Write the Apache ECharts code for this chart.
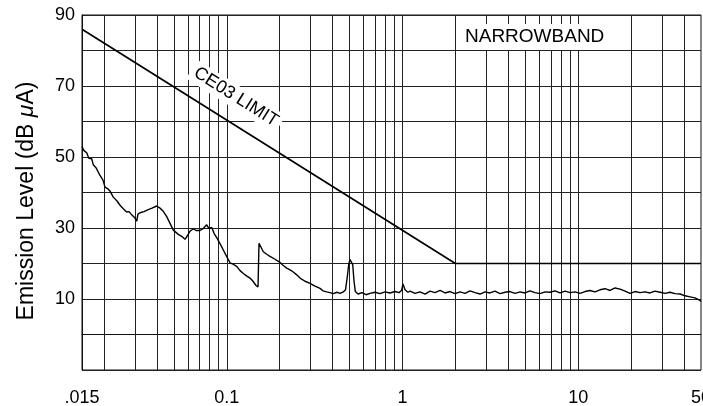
<!DOCTYPE html>
<html>
<head>
<meta charset="utf-8">
<script src="https://cdn.jsdelivr.net/npm/echarts@6/dist/echarts.min.js"></script>
<style>html,body{margin:0;padding:0;background:#fff}#c{width:703px;height:406px}</style>
</head>
<body>
<div id="c"></div>
<script>
// ---- data ----
const xLabelValues = [0.015, 0.1, 1, 10, 50];
const xLabelTexts = ['.015', '0.1', '1', '10', '50'];
const yLabelValues = [10, 30, 50, 70, 90];
const gridFreqs = [0.02,0.03,0.04,0.05,0.06,0.07,0.08,0.09,
  0.1,0.2,0.3,0.4,0.5,0.6,0.7,0.8,0.9,
  1,2,3,4,5,6,7,8,9,
  10,20,30,40];
const limitFreq = [0.015, 2, 50];
const limitDb = [86, 20, 20];
const noisePoints = [
 [0.0150,52.9],[0.01540,51.8],[0.01595,51.2],[0.01643,49.6],[0.01703,49.5],[0.01739,47.8],[0.01802,47.0],
 [0.01899,44.8],[0.01975,43.5],[0.02028,41.5],[0.02109,41.0],[0.02165,40.4],[0.02260,38.7],[0.02373,37.6],
 [0.02469,36.4],[0.02568,35.5],[0.02694,34.5],[0.02777,34.6],[0.02877,33.7],[0.02945,33.5],[0.03003,32.8],
 [0.03071,31.9],[0.03124,33.9],[0.03208,34.3],[0.03381,34.6],[0.03576,35.2],[0.03753,35.6],[0.03991,36.2],
 [0.04169,35.6],[0.04336,34.8],[0.04552,33.2],[0.04753,31.3],[0.04962,29.4],[0.05299,28.2],[0.05563,27.6],
 [0.05785,26.8],[0.06017,28.1],[0.06177,29.1],[0.06451,29.8],[0.06682,29.3],[0.07042,29.3],[0.07325,29.8],
 [0.07687,30.9],[0.07922,29.8],[0.08207,30.2],[0.08459,28.5],[0.08764,27.3],[0.09152,25.6],[0.09556,23.8],
 [0.1003,21.8],[0.1043,20.2],[0.1085,19.8],[0.1139,19.2],[0.1190,18.0],[0.1242,17.2],[0.1296,16.5],
 [0.1356,15.9],[0.1410,15.0],[0.1467,13.8],[0.1506,13.4],[0.1516,12.9],[0.1526,25.7],[0.1566,25.2],
 [0.1614,23.3],[0.1688,22.6],[0.1762,22.0],[0.1882,21.2],[0.2009,20.3],[0.2090,19.5],[0.2194,18.7],
 [0.2291,18.2],[0.2391,17.6],[0.2501,16.8],[0.2612,15.9],[0.2789,15.0],[0.2977,14.4],[0.3178,13.6],
 [0.3394,13.0],[0.3530,12.3],[0.3705,12.0],[0.3869,11.8],[0.4040,11.5],[0.4241,11.9],[0.4411,11.6],
 [0.4606,12.0],[0.4741,12.6],[0.4855,16.3],[0.4944,19.8],[0.5029,21.1],[0.5115,20.6],[0.5210,19.7],
 [0.5300,15.0],[0.5391,12.1],[0.5585,11.4],[0.5884,11.8],[0.6201,11.2],[0.6536,11.6],[0.6977,11.9],
 [0.7451,11.5],[0.7955,12.0],[0.8494,11.7],[0.9067,12.1],[0.9557,11.8],[0.9874,12.4],[1.007,14.2],
 [1.034,12.6],[1.075,11.9],[1.104,12.2],[1.179,11.6],[1.258,12.0],[1.344,11.4],[1.435,12.2],[1.532,11.8],
 [1.636,12.4],[1.747,11.7],[1.865,12.1],[1.991,11.5],[2.126,12.0],[2.270,11.6],[2.423,12.3],[2.588,11.8],
 [2.763,11.4],[2.950,12.0],[3.149,11.7],[3.363,12.2],[3.592,11.5],[3.834,11.9],[4.094,12.1],[4.371,11.6],
 [4.667,12.0],[4.983,11.7],[5.320,12.3],[5.680,11.8],[6.065,11.5],[6.476,12.0],[6.914,11.9],[7.383,12.3],
 [7.882,11.7],[8.417,12.2],[8.987,11.8],[9.594,12.0],[10.24,11.6],[10.94,12.1],[11.68,12.4],[12.47,12.0],
 [13.31,12.6],[14.22,12.9],[15.18,12.4],[16.21,13.1],[17.31,12.8],[18.48,12.2],[19.73,11.6],[21.06,12.1],
 [22.49,11.8],[24.01,12.0],[25.64,11.7],[27.37,12.2],[29.23,11.9],[31.21,11.6],[33.32,11.9],[35.58,11.5],
 [37.98,11.4],[40.56,10.9],[43.31,10.6],[46.24,10.3],[49.37,9.6],[50,9.3]
];
const yAxisTitle = 'Emission Level (dB ';
const limitLabel = 'CE03 LIMIT';
const bandLabel = 'NARROWBAND';

// ---- chart ----
const FONT = "'Liberation Sans', Arial, Helvetica, sans-serif";
const chart = echarts.init(document.getElementById('c'), null, {renderer: 'canvas'});
function xFmt(v) {
  for (let i = 0; i < xLabelValues.length; i++) {
    if (Math.abs(Math.log10(v) - Math.log10(xLabelValues[i])) < 1e-4) return xLabelTexts[i];
  }
  return '';
}
const option = {
  animation: false,
  grid: {left: 82, right: 2, top: 15, bottom: 36, containLabel: false, outerBoundsMode: 'none',
    show: true, borderColor: '#111', borderWidth: 1, backgroundColor: 'transparent'},
  xAxis: {
    type: 'log', logBase: 10, min: 0.015, max: 50,
    axisLine: {show: true, lineStyle: {color: '#111', width: 1}},
    axisTick: {show: false},
    splitLine: {show: false},
    axisLabel: {show: true, formatter: xFmt, color: '#000', fontFamily: FONT, fontSize: 18, margin: 19, showMinLabel: true, showMaxLabel: true}
  },
  yAxis: {
    type: 'value', min: -10, max: 90, interval: 10,
    axisLine: {show: true, lineStyle: {color: '#111', width: 1}},
    axisTick: {show: false},
    splitLine: {show: true, lineStyle: {color: '#222', width: 1}},
    axisLabel: {color: '#000', fontFamily: FONT, fontSize: 18, margin: 7,
      formatter: v => yLabelValues.indexOf(Math.round(v)) >= 0 ? String(Math.round(v)) : ''},
    name: '{n|' + yAxisTitle + '}{i|μ}{n|A)}',
    nameLocation: 'middle', nameGap: 44, nameRotate: 90,
    nameTextStyle: {
      padding: [0, 17, 0, 0],
      rich: {
        n: {fontFamily: FONT, fontSize: 23, color: '#000'},
        i: {fontFamily: FONT, fontSize: 23, color: '#000', fontStyle: 'italic'}
      }
    }
  },
  series: [
    {
      type: 'line', z: 1, data: [], silent: true,
      markLine: {
        silent: true, symbol: 'none', animation: false,
        label: {show: false},
        lineStyle: {type: 'solid', color: '#222', width: 1},
        data: gridFreqs.map(f => ({xAxis: f}))
      }
    },
    {
      type: 'line', z: 5, showSymbol: false, silent: true,
      data: limitFreq.map((f, i) => [f, limitDb[i]]),
      lineStyle: {color: '#000', width: 1.7}
    },
    {
      type: 'line', z: 6, showSymbol: false, silent: true,
      data: noisePoints,
      lineStyle: {color: '#000', width: 1.4}
    }
  ],
  graphic: [
    {
      type: 'rect', z: 100, shape: {x: 457, y: 24, width: 171, height: 26},
      style: {fill: '#fff'}
    },
    {
      type: 'text', z: 101, x: 465, y: 37,
      style: {text: bandLabel, fill: '#000', font: "19px 'Liberation Sans', Arial, sans-serif", verticalAlign: 'middle', align: 'left'}
    },
    {
      type: 'text', z: 101, x: 236, y: 97, rotation: -0.562,
      style: {text: limitLabel, fill: '#000', font: "18px 'Liberation Sans', Arial, sans-serif",
        align: 'center', verticalAlign: 'middle', backgroundColor: '#fff', padding: [2, 4]}
    }
  ]
};
chart.setOption(option);
</script>
</body>
</html>
